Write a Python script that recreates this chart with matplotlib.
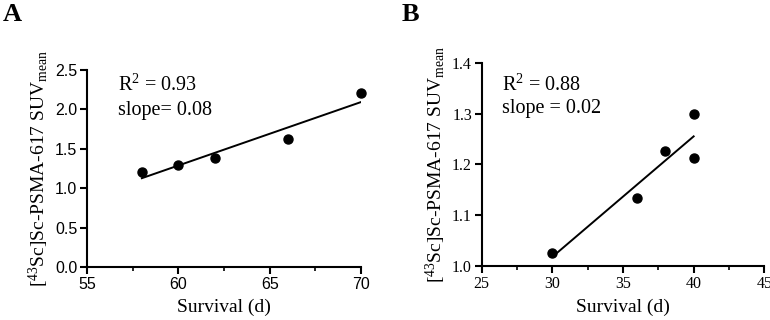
import matplotlib
matplotlib.use("Agg")
import matplotlib.pyplot as plt
from matplotlib.ticker import MultipleLocator
import numpy as np

# Dades llegides de la figura
survival_a = [58, 60, 62, 66, 70]
suv_a = [1.21, 1.30, 1.38, 1.63, 2.21]

survival_b = [30, 36, 38, 40, 40]
suv_b = [1.025, 1.133, 1.227, 1.300, 1.212]

text_a = ["R$^2$ = 0.93", "slope= 0.08"]
text_b = ["R$^2$ = 0.88", "slope = 0.02"]

ylabel = "[$^{43}$Sc]Sc-PSMA-617 SUV$_{\\mathrm{mean}}$"
xlabel = "Survival (d)"

plt.rcParams["mathtext.fontset"] = "custom"
plt.rcParams["mathtext.rm"] = "Liberation Serif"
plt.rcParams["mathtext.it"] = "Liberation Serif:italic"
plt.rcParams["mathtext.bf"] = "Liberation Serif:bold"

fig = plt.figure(figsize=(7.7, 3.2), dpi=100)
ax_a = fig.add_axes([0.113, 0.166, 0.356, 0.615])
ax_b = fig.add_axes([0.6256, 0.169, 0.367, 0.634])


def DrawPanel(ax, x, y, xlim, ylim, xstep, ystep, tickfont, texts, tx, ty):
    ax.plot(x, y, "o", color="black", markersize=6.5, zorder=3, clip_on=False)

    # recta de regressio a partir dels punts
    coef = np.polyfit(x, y, 1)
    xs = np.array([min(x), max(x)])
    ax.plot(xs, coef[0] * xs + coef[1], color="black", linewidth=1.4)

    ax.set_xlim(xlim)
    ax.set_ylim(ylim)
    ax.xaxis.set_major_locator(MultipleLocator(xstep))
    ax.xaxis.set_minor_locator(MultipleLocator(xstep / 2))
    ax.yaxis.set_major_locator(MultipleLocator(ystep))

    for side in ["top", "right"]:
        ax.spines[side].set_visible(False)
    for side in ["left", "bottom"]:
        ax.spines[side].set_linewidth(1.5)

    ax.tick_params(which="major", direction="out", length=5, width=1.5, pad=2)
    ax.tick_params(which="minor", direction="out", length=3, width=1.2)
    for lab in ax.get_xticklabels() + ax.get_yticklabels():
        lab.set_fontfamily(tickfont)
        lab.set_fontsize(11.5)

    ax.set_xlabel(xlabel, fontfamily="Liberation Serif", fontsize=14, labelpad=5)
    ax.set_ylabel(ylabel, fontfamily="Liberation Serif", fontsize=14, labelpad=3)

    i = 0
    while i < len(texts):
        ax.text(tx, ty[i], texts[i], transform=ax.transAxes, fontfamily="Liberation Serif",
                fontsize=14.5, va="center", ha="left")
        i = i + 1


DrawPanel(ax_a, survival_a, suv_a, (55, 70), (0, 2.5), 5, 0.5, "Liberation Sans",
          text_a, 0.113, [0.924, 0.797])
DrawPanel(ax_b, survival_b, suv_b, (25, 45), (1.0, 1.4), 5, 0.1, "Liberation Serif",
          text_b, 0.072, [0.892, 0.778])

fig.text(0.004, 0.99, "A", fontfamily="Liberation Serif", fontweight="bold", fontsize=19, va="top")
fig.text(0.521, 0.99, "B", fontfamily="Liberation Serif", fontweight="bold", fontsize=19, va="top")

fig.savefig("out.png", dpi=100)
